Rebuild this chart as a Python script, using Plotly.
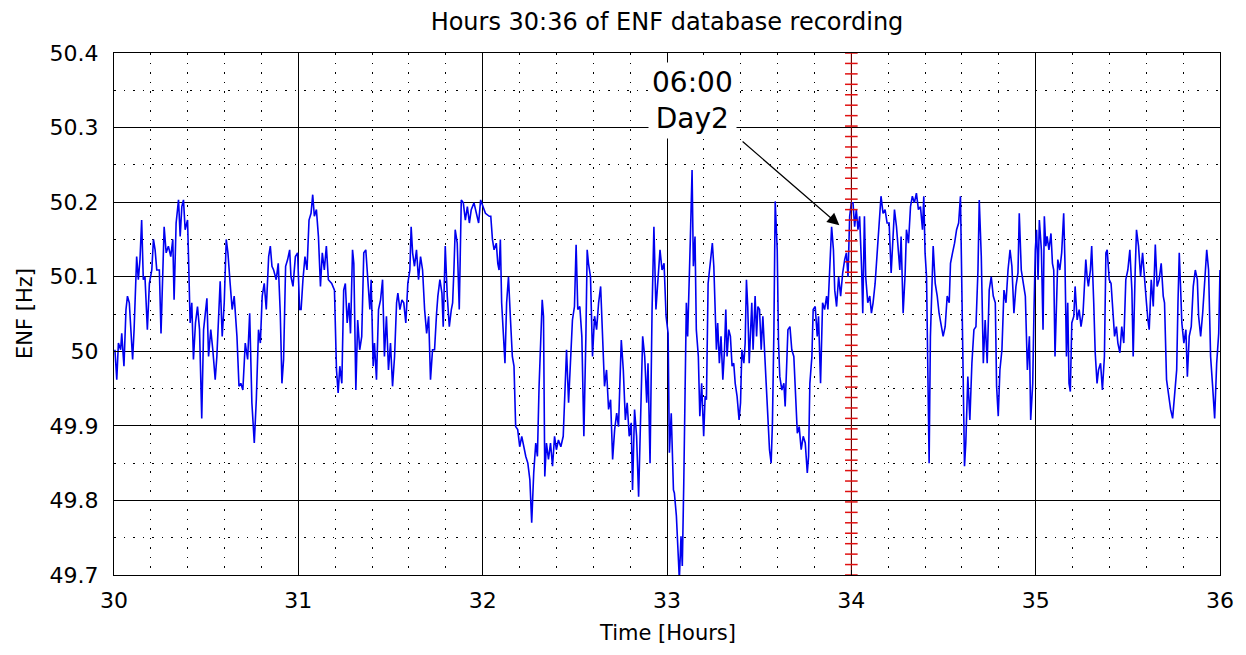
import numpy as np
import plotly.graph_objects as go

# ENF readings (hour, Hz), one list per hour of the recording
hour30 = [(30.005,50.002),(30.015,49.962),(30.024,50.011),(30.036,50.002),(30.042,50.024),(30.054,49.980),(30.065,50.056),(30.073,50.074),(30.083,50.065),(30.091,50.033),(30.101,49.989),(30.109,50.029),(30.116,50.096),(30.123,50.127),(30.132,50.096),(30.141,50.123),(30.150,50.176),(30.159,50.096),(30.168,50.100),(30.181,50.029),(30.192,50.091),(30.205,50.109),(30.214,50.150),(30.223,50.136),(30.232,50.109),(30.246,50.109),(30.255,50.024),(30.265,50.132),(30.272,50.167),(30.283,50.132),(30.295,50.141),(30.308,50.127),(30.319,50.150),(30.326,50.069),(30.337,50.172),(30.350,50.203),(30.359,50.154),(30.368,50.194),(30.377,50.203),(30.386,50.163),(30.399,50.176),(30.406,50.109),(30.413,50.038),(30.422,50.065),(30.431,49.989),(30.442,50.038),(30.453,50.060),(30.464,50.029),(30.476,49.910),(30.486,50.029),(30.495,50.056),(30.504,50.071),(30.513,49.993),(30.525,50.029),(30.536,50.002),(30.549,49.962),(30.558,49.993),(30.567,50.038),(30.576,50.094),(30.587,50.020),(30.598,50.065),(30.609,50.150),(30.618,50.132),(30.630,50.091),(30.641,50.056),(30.652,50.074),(30.667,50.020),(30.678,49.953),(30.688,49.957),(30.699,49.948),(30.712,50.011),(30.725,49.989),(30.736,50.051),(30.748,49.931),(30.761,49.877),(30.772,49.935),(30.784,50.029),(30.794,50.011),(30.804,50.074),(30.815,50.091),(30.826,50.056),(30.839,50.127),(30.848,50.141),(30.857,50.114),(30.866,50.109),(30.880,50.096),(30.891,50.118),(30.902,50.051),(30.911,49.957),(30.920,49.989),(30.931,50.114),(30.942,50.123),(30.953,50.136),(30.960,50.100),(30.971,50.087),(30.984,50.127),(30.996,50.132)]

hour31 = [(31.007,50.056),(31.015,50.056),(31.025,50.096),(31.036,50.127),(31.047,50.109),(31.058,50.176),(31.069,50.185),(31.078,50.210),(31.087,50.181),(31.098,50.190),(31.109,50.154),(31.120,50.087),(31.130,50.132),(31.141,50.109),(31.152,50.141),(31.163,50.096),(31.181,50.091),(31.196,50.082),(31.207,49.975),(31.216,49.944),(31.225,49.980),(31.236,49.957),(31.246,50.082),(31.255,50.091),(31.265,50.038),(31.275,50.065),(31.283,50.024),(31.294,50.136),(31.301,50.118),(31.312,49.948),(31.322,50.042),(31.333,50.002),(31.344,50.020),(31.355,50.132),(31.366,50.136),(31.377,50.096),(31.388,50.056),(31.395,50.096),(31.406,49.980),(31.413,50.011),(31.424,49.962),(31.435,50.056),(31.446,50.069),(31.457,50.096),(31.467,49.993),(31.478,50.047),(31.489,49.975),(31.500,50.011),(31.511,49.953),(31.522,49.993),(31.533,50.065),(31.540,50.078),(31.551,50.056),(31.562,50.069),(31.572,50.065),(31.583,50.038),(31.594,50.091),(31.605,50.109),(31.612,50.167),(31.620,50.132),(31.630,50.114),(31.641,50.136),(31.652,50.096),(31.663,50.127),(31.674,50.109),(31.685,50.056),(31.696,50.024),(31.707,50.047),(31.717,49.962),(31.728,50.002),(31.739,50.002),(31.750,50.051),(31.757,50.074),(31.768,50.096),(31.779,50.078),(31.786,50.033),(31.797,50.141),(31.808,50.074),(31.819,50.033),(31.830,50.056),(31.837,50.065),(31.844,50.109),(31.851,50.163),(31.862,50.145),(31.873,50.056),(31.884,50.203),(31.895,50.199),(31.906,50.176),(31.917,50.194),(31.928,50.172),(31.938,50.190),(31.953,50.199),(31.967,50.185),(31.978,50.172),(31.989,50.203),(32.000,50.194)]

hour32 = [(32.015,50.185),(32.036,50.181),(32.044,50.181),(32.053,50.150),(32.062,50.136),(32.074,50.145),(32.082,50.118),(32.089,50.109),(32.096,50.150),(32.103,50.065),(32.114,50.011),(32.121,49.984),(32.130,50.065),(32.140,50.100),(32.150,50.047),(32.161,49.993),(32.170,49.980),(32.179,49.899),(32.190,49.895),(32.201,49.872),(32.212,49.886),(32.223,49.872),(32.234,49.859),(32.245,49.850),(32.256,49.828),(32.266,49.770),(32.277,49.837),(32.288,49.877),(32.297,49.859),(32.306,49.953),(32.315,50.011),(32.323,50.069),(32.330,50.047),(32.337,49.832),(32.346,49.877),(32.357,49.855),(32.368,49.877),(32.379,49.846),(32.390,49.886),(32.400,49.868),(32.411,49.881),(32.424,49.872),(32.437,49.886),(32.446,49.948),(32.455,50.002),(32.466,49.931),(32.477,49.993),(32.487,50.042),(32.498,50.060),(32.507,50.143),(32.516,50.056),(32.527,50.060),(32.538,50.020),(32.549,49.886),(32.560,50.020),(32.567,50.136),(32.574,50.118),(32.585,50.100),(32.596,49.993),(32.607,50.047),(32.618,50.029),(32.629,50.065),(32.640,50.087),(32.650,50.033),(32.661,49.953),(32.672,49.975),(32.683,49.922),(32.694,49.935),(32.705,49.855),(32.716,49.895),(32.727,49.917),(32.737,49.899),(32.752,50.015),(32.763,49.975),(32.774,49.908),(32.784,49.931),(32.795,49.886),(32.806,49.904),(32.813,49.814),(32.824,49.922),(32.835,49.886),(32.846,49.805),(32.857,49.922),(32.868,50.020),(32.879,49.993),(32.890,49.931),(32.897,49.984),(32.908,49.850),(32.919,50.056),(32.929,50.167),(32.940,50.056),(32.951,50.096),(32.962,50.136),(32.973,50.109),(32.984,50.118),(32.995,50.047)]

hour33 = [(33.006,50.024),(33.013,49.864),(33.023,49.917),(33.035,49.814),(33.040,49.810),(33.051,49.779),(33.058,49.734),(33.067,49.694),(33.076,49.752),(33.083,49.712),(33.091,49.823),(33.098,49.926),(33.105,50.065),(33.112,50.020),(33.120,50.114),(33.127,50.154),(33.136,50.243),(33.143,50.114),(33.152,50.154),(33.159,50.029),(33.170,49.993),(33.178,49.913),(33.188,49.957),(33.199,49.886),(33.207,49.940),(33.214,49.935),(33.223,50.091),(33.232,50.114),(33.239,50.136),(33.246,50.145),(33.254,50.114),(33.261,50.065),(33.268,50.002),(33.275,50.038),(33.284,49.984),(33.293,50.020),(33.303,49.962),(33.312,50.002),(33.319,50.056),(33.326,49.993),(33.335,50.029),(33.344,50.020),(33.353,49.980),(33.362,49.984),(33.370,49.957),(33.380,49.940),(33.391,49.908),(33.399,49.931),(33.406,50.002),(33.417,49.984),(33.424,50.011),(33.431,50.096),(33.438,50.060),(33.446,49.984),(33.453,50.020),(33.460,50.065),(33.467,50.002),(33.478,50.074),(33.486,50.020),(33.493,50.060),(33.502,50.056),(33.511,50.002),(33.520,50.047),(33.529,49.993),(33.538,49.957),(33.547,49.913),(33.556,49.868),(33.565,49.850),(33.572,49.904),(33.580,50.029),(33.587,50.201),(33.598,50.136),(33.605,50.011),(33.612,49.966),(33.623,49.948),(33.634,49.957),(33.641,49.926),(33.649,49.980),(33.656,50.029),(33.667,50.033),(33.677,50.002),(33.688,49.993),(33.698,49.935),(33.707,49.890),(33.717,49.899),(33.728,49.868),(33.739,49.886),(33.750,49.877),(33.761,49.837),(33.768,49.859),(33.775,49.957),(33.786,49.993),(33.793,50.056),(33.804,50.060),(33.815,50.020),(33.822,50.047),(33.833,49.957),(33.844,50.065),(33.855,50.056),(33.866,50.074),(33.873,50.056),(33.882,50.100),(33.893,50.167),(33.903,50.136),(33.910,50.082),(33.920,50.060),(33.931,50.100),(33.942,50.074),(33.953,50.105),(33.964,50.123),(33.973,50.132),(33.982,50.100),(33.991,50.181),(34.000,50.199)]

hour34 = [(34.009,50.199),(34.018,50.167),(34.027,50.190),(34.036,50.163),(34.045,50.181),(34.056,50.109),(34.062,50.051),(34.071,50.181),(34.078,50.100),(34.089,50.065),(34.100,50.074),(34.109,50.051),(34.118,50.065),(34.129,50.091),(34.140,50.127),(34.150,50.163),(34.161,50.208),(34.172,50.185),(34.183,50.190),(34.194,50.172),(34.205,50.172),(34.216,50.105),(34.223,50.141),(34.234,50.190),(34.245,50.167),(34.255,50.136),(34.263,50.109),(34.270,50.154),(34.281,50.051),(34.292,50.105),(34.299,50.163),(34.310,50.145),(34.321,50.194),(34.331,50.208),(34.342,50.199),(34.353,50.212),(34.364,50.190),(34.375,50.194),(34.386,50.163),(34.393,50.208),(34.400,50.132),(34.408,50.100),(34.415,49.966),(34.422,49.850),(34.429,50.020),(34.437,50.096),(34.444,50.141),(34.455,50.091),(34.466,50.074),(34.476,50.051),(34.487,50.038),(34.498,50.020),(34.509,50.033),(34.520,50.074),(34.531,50.065),(34.538,50.118),(34.549,50.132),(34.560,50.145),(34.571,50.163),(34.582,50.172),(34.592,50.208),(34.600,50.065),(34.607,49.931),(34.614,49.846),(34.621,49.877),(34.632,49.966),(34.643,49.908),(34.654,49.984),(34.665,50.029),(34.676,50.033),(34.687,50.109),(34.694,50.203),(34.705,50.127),(34.716,49.984),(34.726,50.042),(34.737,49.984),(34.748,50.082),(34.759,50.100),(34.770,50.074),(34.781,50.065),(34.788,49.953),(34.797,49.913),(34.806,49.975),(34.817,50.002),(34.828,50.082),(34.839,50.065),(34.850,50.109),(34.861,50.136),(34.871,50.114),(34.882,50.051),(34.893,50.087),(34.904,50.105),(34.911,50.185),(34.922,50.109),(34.933,50.091),(34.944,50.074),(34.955,49.975),(34.966,50.020),(34.973,49.908),(34.984,49.957),(34.991,50.056),(34.998,50.136)]

hour35 = [(35.005,50.163),(35.013,50.096),(35.020,50.176),(35.031,50.136),(35.040,50.029),(35.047,50.181),(35.055,50.141),(35.062,50.154),(35.072,50.136),(35.083,50.158),(35.091,50.118),(35.098,50.109),(35.105,49.993),(35.112,50.065),(35.120,50.123),(35.131,50.109),(35.141,50.132),(35.152,50.185),(35.159,50.118),(35.167,49.993),(35.174,50.065),(35.181,49.957),(35.188,49.946),(35.196,50.038),(35.207,50.047),(35.214,50.087),(35.225,50.042),(35.236,50.056),(35.246,50.033),(35.257,50.051),(35.265,50.087),(35.272,50.123),(35.279,50.100),(35.286,50.087),(35.297,50.109),(35.304,50.141),(35.315,50.065),(35.323,49.998),(35.333,49.957),(35.341,49.975),(35.352,49.984),(35.362,49.948),(35.373,49.993),(35.381,50.132),(35.388,50.136),(35.399,50.096),(35.409,50.091),(35.420,50.047),(35.428,50.020),(35.438,50.033),(35.446,50.011),(35.457,49.998),(35.467,50.033),(35.478,50.011),(35.489,50.096),(35.500,50.109),(35.511,50.136),(35.522,50.082),(35.529,49.993),(35.540,50.109),(35.547,50.163),(35.558,50.141),(35.569,50.100),(35.580,50.132),(35.591,50.091),(35.601,50.065),(35.609,50.042),(35.616,50.029),(35.627,50.096),(35.638,50.060),(35.649,50.143),(35.659,50.087),(35.670,50.096),(35.681,50.118),(35.692,50.074),(35.699,50.065),(35.710,49.962),(35.721,49.940),(35.732,49.922),(35.743,49.910),(35.754,49.940),(35.765,49.975),(35.772,50.065),(35.779,50.132),(35.786,50.087),(35.793,50.038),(35.804,50.011),(35.815,50.029),(35.823,49.966),(35.833,50.020),(35.844,50.033),(35.855,50.087),(35.866,50.109),(35.877,50.096),(35.884,50.047),(35.895,50.020),(35.906,50.051),(35.917,50.096),(35.928,50.136),(35.938,50.109),(35.949,49.993),(35.960,49.953),(35.971,49.910),(35.982,49.984),(35.993,50.024),(36.000,50.109)]

# Axis ticks
x_ticks = [30, 31, 32, 33, 34, 35, 36]
x_tick_text = ["30", "31", "32", "33", "34", "35", "36"]
y_ticks = [49.7, 49.8, 49.9, 50.0, 50.1, 50.2, 50.3, 50.4]
y_tick_text = ["49.7", "49.8", "49.9", "50", "50.1", "50.2", "50.3", "50.4"]

# Day boundary marker (06:00 on day 2) and the arrow pointing at it
day2_hour = 34
marker_label = "06:00<br>Day2"
label_pos = (33.141, 50.336)
arrow_tail = (33.402, 50.283)
arrow_tip = (33.935, 50.169)

samples = hour30 + hour31 + hour32 + hour33 + hour34 + hour35
hours = [t for t, _ in samples]
enf = [v for _, v in samples]

FONT = "DejaVu Sans"

fig = go.Figure()
fig.add_trace(go.Scatter(
    x=hours, y=enf, mode="lines",
    line=dict(color="#0000f0", width=1.6),
    hoverinfo="skip", showlegend=False,
))

# vertical red marker line at the day boundary
marker_y = np.linspace(49.7, 50.4, 51)
fig.add_trace(go.Scatter(
    x=[day2_hour] * len(marker_y), y=marker_y, mode="lines+markers",
    line=dict(color="#8a0000", width=1),
    marker=dict(symbol="line-ew", size=9, line=dict(color="#e01010", width=1.5)),
    hoverinfo="skip", showlegend=False, cliponaxis=True,
))

axis_common = dict(
    showline=True, linecolor="black", linewidth=1, mirror=True,
    showgrid=True, gridcolor="black", gridwidth=1,
    zeroline=False, ticks="inside", ticklen=5, tickcolor="black",
    tickfont=dict(family=FONT, size=22, color="black"),
)

fig.update_xaxes(
    range=[30, 36], tickmode="array", tickvals=x_ticks, ticktext=x_tick_text,
    minor=dict(dtick=0.2, tick0=30, showgrid=True, gridcolor="black",
               gridwidth=1, griddash="1.5px,8px"),
    ticklabelstandoff=6,
    **axis_common,
)
fig.update_yaxes(
    range=[49.7, 50.4], tickmode="array", tickvals=y_ticks, ticktext=y_tick_text,
    minor=dict(dtick=0.05, tick0=49.7, showgrid=True, gridcolor="black",
               gridwidth=1, griddash="1.5px,8px"),
    ticklabelstandoff=10,
    **axis_common,
)

fig.add_annotation(
    x=label_pos[0], y=label_pos[1], xref="x", yref="y",
    text=marker_label, showarrow=False,
    font=dict(family=FONT, size=28, color="black"),
    bgcolor="white", borderpad=3, align="center",
)
fig.add_annotation(
    x=arrow_tip[0], y=arrow_tip[1], xref="x", yref="y",
    ax=arrow_tail[0], ay=arrow_tail[1], axref="x", ayref="y",
    text="", showarrow=True, arrowhead=2, arrowsize=2,
    arrowwidth=1.2, arrowcolor="black",
)

# axis titles
fig.add_annotation(
    x=0.5, y=0, xref="paper", yref="paper", yshift=-58,
    text="Time [Hours]", showarrow=False, yanchor="middle",
    font=dict(family=FONT, size=21, color="black"),
)
fig.add_annotation(
    x=0, y=0.5, xref="paper", yref="paper", xshift=-89,
    text="ENF [Hz]", showarrow=False, textangle=-90, xanchor="center",
    font=dict(family=FONT, size=21, color="black"),
)

fig.update_layout(
    width=1246, height=655,
    margin=dict(l=114, r=26, t=53, b=80),
    paper_bgcolor="white", plot_bgcolor="white",
    title=dict(
        text="Hours 30:36 of ENF database recording",
        x=0.5, xref="paper", y=1 - 22 / 655, yref="container",
        yanchor="middle",
        font=dict(family=FONT, size=24, color="black"),
    ),
    showlegend=False,
)

fig.write_html("out.html")
